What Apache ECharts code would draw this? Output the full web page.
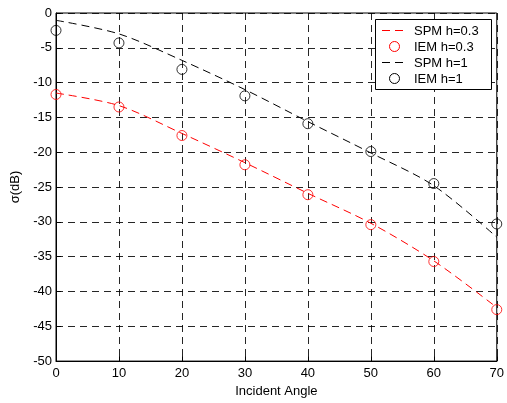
<!DOCTYPE html>
<html>
<head>
<meta charset="utf-8">
<script src="https://cdn.jsdelivr.net/npm/echarts@6/dist/echarts.min.js"></script>
<style>
html,body{margin:0;padding:0;background:#fff;}
#c{width:507px;height:403px;}
</style>
</head>
<body>
<div id="c"></div>
<script>
var angles = [0, 10, 20, 30, 40, 50, 60, 70];
var spmH03 = [-11.5, -13.3, -17.3, -21.5, -25.9, -30.2, -35.6, -42.3];
var iemH03 = [-11.7, -13.5, -17.6, -21.8, -26.1, -30.4, -35.7, -42.6];
var spmH1 = [-1.05, -3.0, -6.8, -11.0, -15.6, -20.1, -24.8, -32.2];
var iemH1 = [-2.5, -4.3, -8.1, -11.9, -15.9, -19.9, -24.5, -30.3];
var seriesNames = ['SPM h=0.3', 'IEM h=0.3', 'SPM h=1', 'IEM h=1'];
var seriesColors = ['#ff0000', '#ff0000', '#000000', '#000000'];

function pairs(xs, ys) { return xs.map(function (x, i) { return [x, ys[i]]; }); }

var font = 'Arial, "Liberation Sans", Helvetica, sans-serif';
var gridLine = { show: true, lineStyle: { color: '#000', width: 1, type: [7, 5], opacity: 0.85 } };

// legend drawn as graphic elements (MATLAB style box)
var legendEls = [{
  type: 'rect', shape: { x: 375.5, y: 19.5, width: 116, height: 70 },
  style: { fill: '#fff', stroke: '#000', lineWidth: 1 }, z: 10
}];
var rowY = [30, 46, 62, 78];
seriesNames.forEach(function (nm, i) {
  var isLine = (i % 2 === 0);
  if (isLine) {
    legendEls.push({
      type: 'line', shape: { x1: 382, y1: rowY[i] + 0.5, x2: 406, y2: rowY[i] + 0.5 },
      style: { stroke: seriesColors[i], lineWidth: 1, lineDash: [8, 5] }, z: 11
    });
  } else {
    legendEls.push({
      type: 'circle', shape: { cx: 394.5, cy: rowY[i] + 0.5, r: 5 },
      style: { fill: 'none', stroke: seriesColors[i], lineWidth: 1 }, z: 11
    });
  }
  legendEls.push({
    type: 'text', x: 414, y: rowY[i] + 1,
    style: { text: nm, font: '13px ' + font, fill: '#000', textVerticalAlign: 'middle', verticalAlign: 'middle' }, z: 11
  });
});

var chart = echarts.init(document.getElementById('c'), null, { renderer: 'canvas' });
chart.setOption({
  animation: false,
  backgroundColor: '#fff',
  grid: { left: 56, right: 8, top: 13, bottom: 41, show: true, borderColor: '#000', borderWidth: 1, backgroundColor: 'transparent' },
  xAxis: {
    type: 'value', min: 0, max: 70, interval: 10,
    name: 'Incident Angle', nameLocation: 'middle', nameGap: 23,
    nameTextStyle: { fontFamily: font, fontSize: 13, color: '#000' },
    axisLine: { show: true, onZero: false, lineStyle: { color: '#000', width: 1 } },
    axisTick: { show: true, inside: true, length: 5, lineStyle: { color: '#000' } },
    axisLabel: { fontFamily: font, fontSize: 13, color: '#000', margin: 6, showMinLabel: true, showMaxLabel: true },
    splitLine: gridLine
  },
  yAxis: {
    type: 'value', min: -50, max: 0, interval: 5,
    name: 'σ(dB)', nameLocation: 'middle', nameGap: 32, nameRotate: 90,
    nameTextStyle: { fontFamily: font, fontSize: 13, color: '#000' },
    axisLine: { show: true, onZero: false, lineStyle: { color: '#000', width: 1 } },
    axisTick: { show: true, inside: true, length: 5, lineStyle: { color: '#000' } },
    axisLabel: { fontFamily: font, fontSize: 13, color: '#000', margin: 4, showMinLabel: true, showMaxLabel: true },
    splitLine: gridLine
  },
  graphic: legendEls,
  series: [
    {
      name: seriesNames[0], type: 'line', data: pairs(angles, spmH03), smooth: 0.3,
      symbol: 'none', color: seriesColors[0],
      lineStyle: { color: seriesColors[0], width: 1, type: [8, 5] }, z: 3
    },
    {
      name: seriesNames[1], type: 'scatter', data: pairs(angles, iemH03),
      symbol: 'circle', symbolSize: 10,
      itemStyle: { color: 'none', borderColor: seriesColors[1], borderWidth: 1 }, z: 4
    },
    {
      name: seriesNames[2], type: 'line', data: pairs(angles, spmH1), smooth: 0.3,
      symbol: 'none', color: seriesColors[2],
      lineStyle: { color: seriesColors[2], width: 1, type: [8, 5] }, z: 3
    },
    {
      name: seriesNames[3], type: 'scatter', data: pairs(angles, iemH1),
      symbol: 'circle', symbolSize: 10,
      itemStyle: { color: 'none', borderColor: seriesColors[3], borderWidth: 1 }, z: 4
    }
  ]
});
</script>
</body>
</html>
